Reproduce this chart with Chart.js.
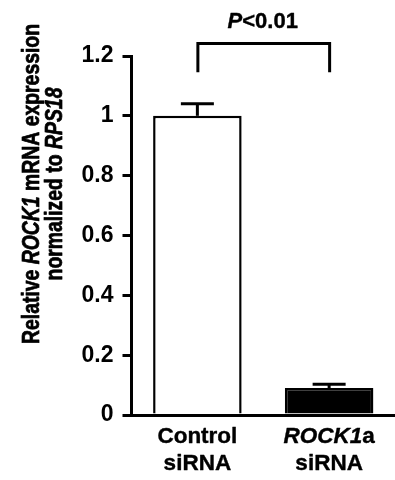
<!DOCTYPE html>
<html>
<head>
<meta charset="utf-8">
<script src="https://cdn.jsdelivr.net/npm/chart.js@4/dist/chart.umd.min.js"></script>
<style>
html,body{margin:0;padding:0;background:#fff;}
#wrap{width:395px;height:480px;position:relative;}
</style>
</head>
<body>
<div id="wrap"><canvas id="c" width="395" height="480"></canvas></div>
<script>
// ---- data (text with *...* marks italic) ----
const categories = [['Control', 'siRNA'], ['*ROCK1*a', 'siRNA']];
const means = [1.0, 0.09];
const errors = [0.04, 0.013];
const yMin = 0, yMax = 1.2, yStep = 0.2;
const yTitleLines = ['Relative *ROCK1* mRNA expression', 'normalized to *RPS18*'];
const sigLabel = '*P*<0.01';
const bracketTopValue = 1.242;
const bracketBottomValue = 1.146;

const FONT = '"Liberation Sans", Arial, Helvetica, sans-serif';

function segs(str){
  const parts = str.split('*');
  return parts.map((t,i)=>({t, it: i%2===1})).filter(s=>s.t.length);
}
function drawRich(ctx, str, x, y, size, align, thick){
  const s = segs(str);
  let total = 0;
  s.forEach(p=>{ ctx.font = (p.it?'italic ':'')+'bold '+size+'px '+FONT; p.w = ctx.measureText(p.t).width; total += p.w; });
  let cx = align==='center' ? x - total/2 : x;
  ctx.textAlign = 'left';
  ctx.lineWidth = thick || 0.5;
  ctx.lineJoin = 'round';
  s.forEach(p=>{
    ctx.font = (p.it?'italic ':'')+'bold '+size+'px '+FONT;
    ctx.fillText(p.t, cx, y);
    ctx.strokeText(p.t, cx, y);
    cx += p.w;
  });
}

const extras = {
  id: 'extras',
  afterDatasetsDraw(chart){
    const ctx = chart.ctx, xs = chart.scales.x, ys = chart.scales.y;
    ctx.save();
    ctx.strokeStyle = '#000';
    ctx.lineCap = 'butt';
    means.forEach((m,i)=>{
      const x = xs.getPixelForValue(i);
      const yTop = ys.getPixelForValue(m + errors[i]);
      const yBase = ys.getPixelForValue(m);
      ctx.lineWidth = 3;
      ctx.beginPath(); ctx.moveTo(x, yBase); ctx.lineTo(x, yTop); ctx.stroke();
      ctx.beginPath(); ctx.moveTo(x-16.5, yTop); ctx.lineTo(x+16.5, yTop); ctx.stroke();
    });
    ctx.restore();
  },
  afterDraw(chart){
    const ctx = chart.ctx, xs = chart.scales.x, ys = chart.scales.y;
    ctx.save();
    ctx.fillStyle = '#000';
    ctx.strokeStyle = '#000';
    // bracket
    const x0 = xs.getPixelForValue(0) + 0.5, x1 = xs.getPixelForValue(1) + 0.5;
    const yt = ys.getPixelForValue(bracketTopValue), yb = ys.getPixelForValue(bracketBottomValue);
    ctx.lineWidth = 3;
    ctx.lineJoin = 'miter';
    ctx.beginPath(); ctx.moveTo(x0, yb); ctx.lineTo(x0, yt); ctx.lineTo(x1, yt); ctx.lineTo(x1, yb); ctx.stroke();
    ctx.textBaseline = 'alphabetic';
    drawRich(ctx, sigLabel, (x0+x1)/2 - 1, 28, 22, 'center', 0.4);
    // x labels
    categories.forEach((lines,i)=>{
      const x = xs.getPixelForValue(i);
      lines.forEach((ln,j)=>{ drawRich(ctx, ln, x, 443 + j*27, 22.5, 'center', 0.4); });
    });
    // y title (rotated; glyphs slightly taller across the line, as in the reference)
    yTitleLines.forEach((ln,j)=>{
      ctx.save();
      ctx.translate(39 + j*23, 184);
      ctx.rotate(-Math.PI/2);
      ctx.scale(1, 1.22);
      drawRich(ctx, ln, 0, 0, 19.4, 'center', 0.6);
      ctx.restore();
    });
    ctx.restore();
  }
};

new Chart(document.getElementById('c'), {
  type: 'bar',
  data: {
    labels: categories.map(c=>c.join(' ').replace(/\*/g,'')),
    datasets: [{
      data: means,
      backgroundColor: ['#ffffff', '#000000'],
      borderColor: '#000000',
      borderWidth: 2.5,
      borderSkipped: 'bottom',
      categoryPercentage: 1,
      barPercentage: 0.672
    }]
  },
  options: {
    responsive: false,
    animation: false,
    events: [],
    layout: { padding: { left: 0, top: 56, right: -4, bottom: 65 } },
    plugins: { legend: { display: false }, tooltip: { enabled: false }, title: { display: false } },
    scales: {
      x: {
        grid: { display: false, drawTicks: false },
        border: { display: true, color: '#000', width: 3 },
        ticks: { display: false },
        afterFit(s){ s.height = 0; }
      },
      y: {
        min: yMin, max: yMax,
        grid: { display: true, drawOnChartArea: false, drawTicks: true, tickLength: 9, tickWidth: 3, lineWidth: 3, tickColor: '#000', color: '#000' },
        border: { display: true, color: '#000', width: 3 },
        ticks: {
          stepSize: yStep, padding: 9, color: '#000',
          font: { family: FONT, size: 23, weight: 'bold' },
          callback: v => String(Number(v.toFixed(1)))
        },
        afterFit(s){ s.width = 131.5; }
      }
    }
  },
  plugins: [extras]
});
</script>
</body>
</html>
